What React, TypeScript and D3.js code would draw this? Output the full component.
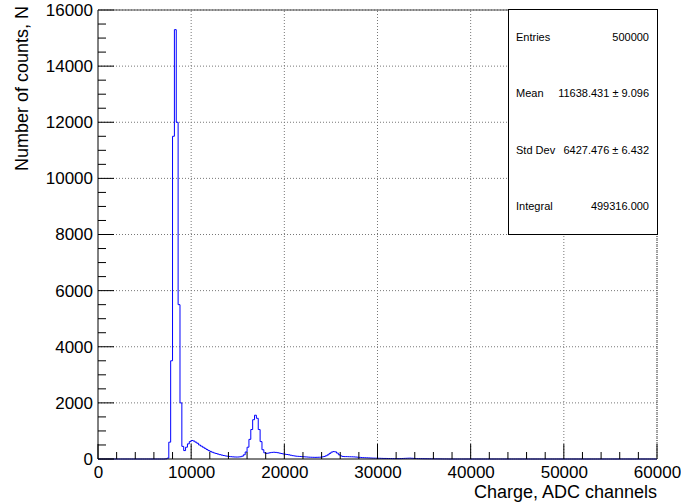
import { useEffect, useRef } from 'react'
import * as d3 from 'd3'

// histogram: 200-ADC bins, non-empty part starts at 7200
const BIN_WIDTH = 200
const FIRST_BIN = 7200
const counts = [
  5, 30, 600, 3500, 11500, 15300, 12000, 5500, 2000, 450,
  300, 420, 540, 620, 660, 640, 600, 560, 500, 460,
  420, 380, 340, 300, 270, 240, 215, 195, 175, 155,
  140, 125, 110, 100, 90, 82, 76, 72, 70, 72,
  80, 100, 150, 250, 420, 700, 1050, 1400, 1560, 1450,
  1050, 620, 330, 220, 200, 210, 225, 235, 240, 235,
  225, 210, 195, 180, 170, 160, 150, 135, 120, 110,
  100, 95, 90, 85, 80, 75, 70, 65, 62, 60,
  58, 60, 62, 65, 75, 90, 115, 150, 200, 245,
  265, 255, 210, 150, 110, 90, 85, 85, 82, 80,
  78, 75, 70, 65, 58, 52, 48, 45, 42, 38,
  35, 32, 30, 28, 26, 24, 22, 20, 20, 18,
  17, 16, 15, 14, 14, 13, 15, 18, 22, 25,
  28, 30, 26, 22, 18, 15, 13, 12, 11, 10,
  9, 8, 8, 7, 6, 6, 5, 4, 3, 2,
  2, 1,
]

const xMajor = [0, 10000, 20000, 30000, 40000, 50000, 60000]
const yMajor = [0, 2000, 4000, 6000, 8000, 10000, 12000, 14000, 16000]

const statLabels = ['Entries', 'Mean', 'Std Dev', 'Integral']
const statValues = ['500000', '11638.431 \u00b1 9.096', '6427.476 \u00b1 6.432', '499316.000']

const FONT = '"Liberation Sans", Arial, Helvetica, sans-serif'

export default function App() {
  const ref = useRef<SVGSVGElement>(null)

  useEffect(() => {
    const svg = d3.select(ref.current)
    svg.selectAll('*').remove()
    const width = 681
    const height = 504
    const margin = { top: 10, right: 24, bottom: 45, left: 98 }

    const x = d3.scaleLinear().domain([0, 60000]).range([margin.left, width - margin.right])
    const y = d3.scaleLinear().domain([0, 16000]).range([height - margin.bottom, margin.top])
    const x0 = x(0), x1 = x(60000), y0 = y(0), y1 = y(16000)

    svg.append('rect').attr('width', width).attr('height', height).attr('fill', '#fff')

    // grid
    svg.selectAll('line.gx')
      .data(xMajor.slice(1))
      .enter().append('line')
      .attr('x1', d => x(d)).attr('x2', d => x(d))
      .attr('y1', y0).attr('y2', y1)
      .attr('stroke', '#777').attr('stroke-width', 1).attr('stroke-dasharray', '1,2')
    svg.selectAll('line.gy')
      .data(yMajor.slice(1))
      .enter().append('line')
      .attr('x1', x0).attr('x2', x1)
      .attr('y1', d => y(d)).attr('y2', d => y(d))
      .attr('stroke', '#777').attr('stroke-width', 1).attr('stroke-dasharray', '1,2')

    // full histogram 0..60000
    const nBins = 60000 / BIN_WIDTH
    const firstIdx = FIRST_BIN / BIN_WIDTH
    const bins = d3.range(nBins).map(i => ({
      lo: i * BIN_WIDTH,
      c: i >= firstIdx && i < firstIdx + counts.length ? counts[i - firstIdx] : 0,
    }))
    const pts: [number, number][] = bins.map(b => [b.lo, b.c])
    pts.push([60000, bins[bins.length - 1].c])
    const line = d3.line<[number, number]>()
      .x(d => x(d[0]))
      .y(d => y(d[1]))
      .curve(d3.curveStepAfter)
    svg.append('path')
      .attr('d', line(pts))
      .attr('fill', 'none')
      .attr('stroke', '#0000ff')
      .attr('stroke-width', 1)

    // axes
    const xAxis = svg.append('g').attr('transform', `translate(0,${y0})`)
    xAxis.call(
      d3.axisBottom(x).tickValues(xMajor).tickSize(0).tickPadding(7).tickFormat(d => String(d))
    )
    xAxis.select('.domain').remove()
    xAxis.selectAll('text').attr('font-size', 17).attr('font-family', FONT).attr('fill', '#000')

    const yAxis = svg.append('g').attr('transform', `translate(${x0},0)`)
    yAxis.call(
      d3.axisLeft(y).tickValues(yMajor).tickSize(0).tickPadding(5).tickFormat(d => String(d))
    )
    yAxis.select('.domain').remove()
    yAxis.selectAll('text').attr('font-size', 17).attr('font-family', FONT).attr('fill', '#000')

    // tick marks (inside the frame)
    svg.selectAll('line.xt')
      .data(d3.range(0, 60001, 2000))
      .enter().append('line')
      .attr('x1', d => x(d)).attr('x2', d => x(d))
      .attr('y1', y0).attr('y2', d => y0 - (d % 10000 === 0 ? 15 : 7))
      .attr('stroke', '#000').attr('stroke-width', 1)
    svg.selectAll('line.yt')
      .data(d3.range(0, 16001, 500))
      .enter().append('line')
      .attr('x1', x0).attr('x2', d => x0 + (d % 2000 === 0 ? 16 : 8))
      .attr('y1', d => y(d)).attr('y2', d => y(d))
      .attr('stroke', '#000').attr('stroke-width', 1)

    // frame
    svg.append('line').attr('x1', x0).attr('x2', x0).attr('y1', y0).attr('y2', y1).attr('stroke', '#000')
    svg.append('line').attr('x1', x0).attr('x2', x1).attr('y1', y0).attr('y2', y0).attr('stroke', '#000')
    svg.append('line').attr('x1', x0).attr('x2', x1).attr('y1', y1).attr('y2', y1).attr('stroke', '#444')
    svg.append('line').attr('x1', x1).attr('x2', x1).attr('y1', y0).attr('y2', y1)
      .attr('stroke', '#444').attr('stroke-dasharray', '1,1')

    // titles
    svg.append('text')
      .attr('x', x1).attr('y', height - 6)
      .attr('text-anchor', 'end')
      .attr('font-size', 18).attr('font-family', FONT)
      .text('Charge, ADC channels')
    svg.append('text')
      .attr('transform', `translate(28,${y1 - 4}) rotate(-90)`)
      .attr('text-anchor', 'end')
      .attr('font-size', 18).attr('font-family', FONT)
      .text('Number of counts, N')

    // stats box
    const bx = 508, by = y1 - 1, bw = x1 - bx, bh = 225
    svg.append('rect')
      .attr('x', bx + 0.5).attr('y', by + 0.5).attr('width', bw).attr('height', bh)
      .attr('fill', '#fff').attr('stroke', '#000').attr('stroke-width', 1)
    const rowH = bh / statLabels.length
    statLabels.forEach((lab, i) => {
      const cy = by + rowH * (i + 0.5) + 4
      svg.append('text')
        .attr('x', bx + 8).attr('y', cy)
        .attr('font-size', 11).attr('font-family', FONT)
        .text(lab)
      svg.append('text')
        .attr('x', x1 - 8).attr('y', cy)
        .attr('text-anchor', 'end')
        .attr('font-size', 11).attr('font-family', FONT)
        .text(statValues[i])
    })
  }, [])

  return (
    <svg
      ref={ref}
      width={681}
      height={504}
      viewBox="0 0 681 504"
      style={{ position: 'absolute', left: 0, top: 0, display: 'block' }}
    />
  )
}
